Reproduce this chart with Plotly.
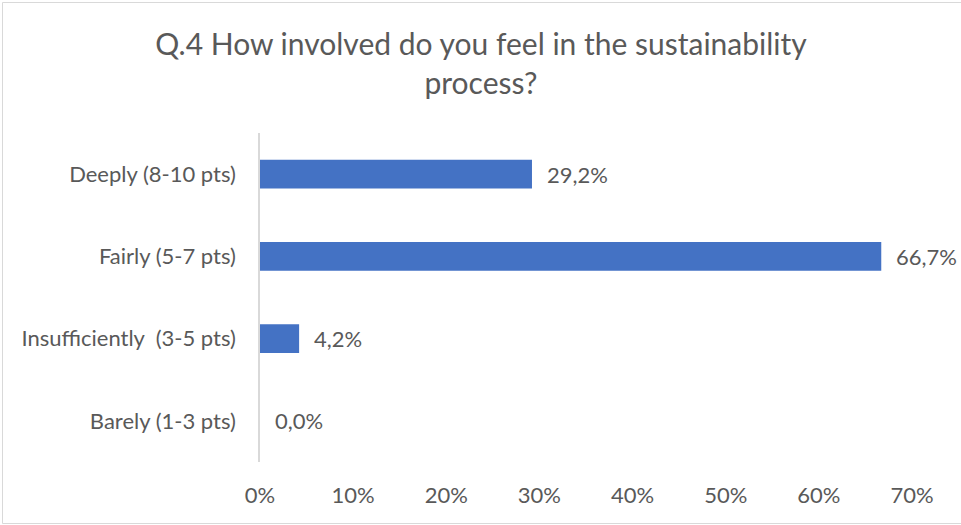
import plotly.graph_objects as go

# Survey answers, top to bottom
categories = ["Deeply (8-10 pts)", "Fairly (5-7 pts)", "Insufficiently  (3-5 pts)", "Barely (1-3 pts)"]
shares = [29.2, 66.7, 4.2, 0.0]
tick_values = [0, 10, 20, 30, 40, 50, 60, 70]
tick_labels = ["0%", "10%", "20%", "30%", "40%", "50%", "60%", "70%"]
title_text = "Q.4 How involved do you feel in the sustainability<br>process?"

W, H = 961, 525
ML, MR, MT, MB = 260, 49, 133, 63
TEXT = "#595959"
FONT = "Lato"
FS = 22

fig = go.Figure()
fig.add_trace(go.Bar(
    x=shares,
    y=categories,
    orientation="h",
    width=0.35,
    marker=dict(color="#4472C4", line=dict(width=0)),
    hoverinfo="skip",
))

# value labels to the right of each bar
for cat, val in zip(categories, shares):
    fig.add_annotation(
        x=val, y=cat, xref="x", yref="y",
        text=f"{val:.1f}%".replace(".", ","),
        showarrow=False, xanchor="left", xshift=13,
        font=dict(family=FONT, size=FS, color=TEXT),
    )

# light outer frame of the chart area
pw, ph = W - ML - MR, H - MT - MB
fig.add_shape(
    type="rect", xref="paper", yref="paper",
    x0=(2.5 - ML) / pw, x1=(W + 10 - ML) / pw,
    y0=(H - MB - 523.5) / ph, y1=(H - MB - 2.5) / ph,
    line=dict(color="#d9d9d9", width=1), fillcolor="rgba(0,0,0,0)",
    layer="below",
)

fig.update_layout(
    width=W, height=H,
    margin=dict(l=ML, r=MR, t=MT, b=MB),
    paper_bgcolor="white", plot_bgcolor="white",
    showlegend=False,
    title=dict(
        text=title_text, x=481 / W, xanchor="center", xref="container",
        y=1 - 55 / H, yanchor="middle",
        font=dict(family=FONT, size=30, color=TEXT),
    ),
    font=dict(family=FONT, size=FS, color=TEXT),
    xaxis=dict(
        range=[0, 70], tickvals=tick_values, ticktext=tick_labels,
        showgrid=False, zeroline=False, showline=False,
        ticks="", ticklabelstandoff=18,
        tickfont=dict(family=FONT, size=FS, color=TEXT),
        fixedrange=True,
    ),
    yaxis=dict(
        categoryorder="array", categoryarray=categories[::-1],
        showgrid=False, zeroline=False,
        showline=True, linecolor="#d9d9d9", linewidth=1.5,
        ticks="", ticklabelstandoff=18,
        tickfont=dict(family=FONT, size=FS, color=TEXT),
        fixedrange=True,
    ),
)

fig.write_html("out.html")
